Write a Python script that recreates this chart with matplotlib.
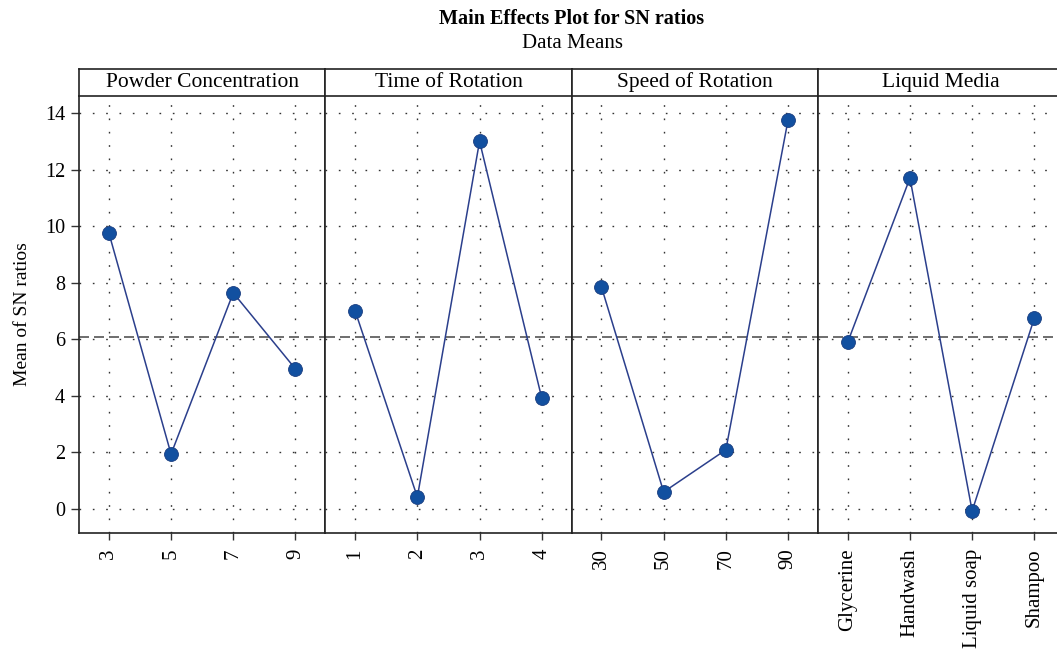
import numpy as np
import matplotlib.pyplot as plt

plt.rcParams['font.family'] = ['Liberation Serif', 'DejaVu Serif']

factors = ['Powder Concentration', 'Time of Rotation', 'Speed of Rotation', 'Liquid Media']
levels = [
    ['3', '5', '7', '9'],
    ['1', '2', '3', '4'],
    ['30', '50', '70', '90'],
    ['Glycerine', 'Handwash', 'Liquid soap', 'Shampoo'],
]
powder_sn = [9.76, 1.94, 7.64, 4.95]
time_sn = [7.00, 0.42, 13.00, 3.92]
speed_sn = [7.85, 0.60, 2.09, 13.75]
liquid_sn = [5.90, 11.70, -0.07, 6.75]
sn_means = [powder_sn, time_sn, speed_sn, liquid_sn]

grand_mean = np.mean(powder_sn)

W, H = 1057, 650
fig = plt.figure(figsize=(W / 100, H / 100), dpi=100)

left, panel_w = 79, 246.3
bottom, top = 533, 96
strip_top = 69

line_col = '#2b3f8c'
dot_col = '#1250a0'
dotted = (0, (1.2, 8.4))

for i, (name, labs, vals) in enumerate(zip(factors, levels, sn_means)):
    x0 = left + i * panel_w
    ax = fig.add_axes([x0 / W, 1 - bottom / H, panel_w / W, (bottom - top) / H])
    xs = np.arange(len(vals))
    ax.plot(xs, vals, color=line_col, lw=1.1, zorder=3)
    ax.plot(xs, vals, 'o', ms=10, mfc=dot_col, mec='#1a3d80', mew=0.6, zorder=4)
    ax.axhline(grand_mean, color='#555555', lw=1.2, ls=(0, (6, 3)), zorder=2)
    ax.set_xlim(-0.48, 3.48)
    ax.set_ylim(-0.85, 14.6)
    ax.set_yticks(range(0, 15, 2))
    ax.set_xticks(xs)
    ax.set_xticklabels(labs, rotation=90, fontsize=15)
    ax.grid(True, color='#333333', lw=1.0, ls=dotted)
    ax.tick_params(axis='x', direction='out', length=5, width=1, color='#333333', pad=6)
    if i == 0:
        ax.tick_params(axis='y', direction='out', length=6, width=1, color='#333333', labelsize=14.5, pad=4)
        ax.set_ylabel('Mean of SN ratios', fontsize=14, labelpad=10)
    else:
        ax.tick_params(axis='y', left=False, labelleft=False)
    for s in ax.spines.values():
        s.set_color('#222222')
        s.set_linewidth(1.2)
    ax.spines['top'].set_visible(False)

    strip = fig.add_axes([x0 / W, 1 - top / H, panel_w / W, (top - strip_top) / H])
    strip.set_xticks([])
    strip.set_yticks([])
    for s in strip.spines.values():
        s.set_color('#222222')
        s.set_linewidth(1.2)
    strip.text(0.5, 0.5, name, ha='center', va='center', fontsize=15.5, transform=strip.transAxes)

fig.text(572 / W, 1 - 19 / H, 'Main Effects Plot for SN ratios', ha='center', va='center',
         fontsize=14.5, fontweight='bold')
fig.text(572 / W, 1 - 44 / H, 'Data Means', ha='center', va='center', fontsize=15)

fig.savefig('out.png', dpi=100)
